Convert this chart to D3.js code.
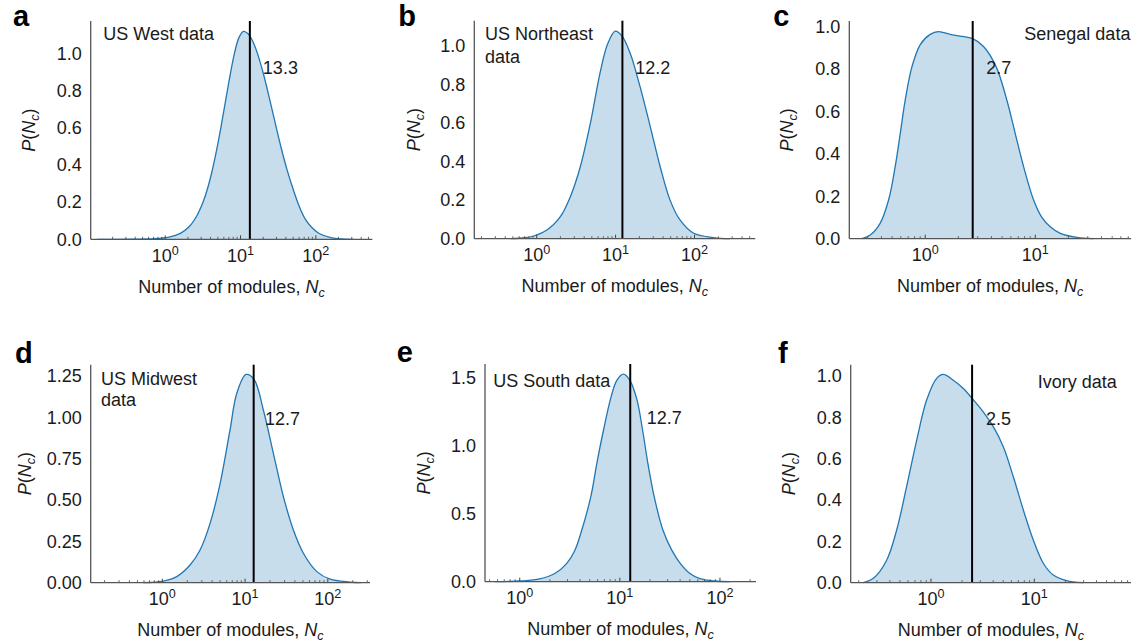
<!DOCTYPE html>
<html><head><meta charset="utf-8">
<script src="https://cdn.jsdelivr.net/npm/d3@7"></script>
<style>
body{margin:0;background:#fff}
svg{display:block}
text{font-family:"Liberation Sans",Arial,Helvetica,sans-serif;fill:#1a1a1a}
</style>
</head><body>
<svg id="chart" width="1133" height="643"></svg>
<script>
// ---------------- DATA ----------------
const panelLetters = ["a","b","c","d","e","f"];
const panelTitles = [["US West data"],["US Northeast","data"],["Senegal data"],["US Midwest","data"],["US South data"],["Ivory data"]];
const meanValues = [13.3, 12.2, 2.7, 12.7, 12.7, 2.5];
const meanLabels = ["13.3","12.2","2.7","12.7","12.7","2.5"];

// y ticks per panel
const yTicksA = [0,0.2,0.4,0.6,0.8,1.0];
const yTicksB = [0,0.2,0.4,0.6,0.8,1.0];
const yTicksC = [0,0.2,0.4,0.6,0.8,1.0];
const yTicksD = [0,0.25,0.5,0.75,1.0,1.25];
const yTicksE = [0,0.5,1.0,1.5];
const yTicksF = [0,0.2,0.4,0.6,0.8,1.0];
const yTickFormats = [".1f",".1f",".1f",".2f",".1f",".1f"];
const yMaxValues = [1.176, 1.13, 1.025, 1.319, 1.60, 1.055];
// x axis limits, as log10(Nc)
const xLimLog = [[-0.99,2.75],[-0.79,2.77],[-0.69,1.87],[-0.866,2.51],[-0.347,2.36],[-0.777,1.936]];

// KDE curves: log10(Nc) positions and density P(Nc)
const logNcA = [-0.9,-0.4,-0.15,0.05,0.20,0.32,0.42,0.50,0.56,0.62,0.68,0.74,0.80,0.86,0.92,0.98,1.04,1.10,1.16,1.22,1.30,1.38,1.46,1.54,1.62,1.70,1.78,1.86,1.95,2.05,2.2,2.35,2.5];
const densA  = [0,0.0005,0.003,0.012,0.032,0.069,0.127,0.198,0.271,0.364,0.476,0.604,0.743,0.881,1.003,1.088,1.12,1.107,1.068,1.007,0.897,0.766,0.627,0.492,0.371,0.268,0.177,0.109,0.062,0.030,0.009,0.002,0];

const logNcB = [-0.33,-0.15,-0.04,0.13,0.3,0.427,0.553,0.68,0.806,0.90,0.996,1.08,1.186,1.31,1.44,1.565,1.69,1.816,1.99,2.24,2.45];
const densB  = [0,0.005,0.014,0.045,0.114,0.218,0.373,0.598,0.865,1.01,1.076,1.051,0.96,0.788,0.58,0.373,0.2,0.097,0.028,0.006,0];

const logNcC = [-0.575,-0.5,-0.41,-0.333,-0.273,-0.227,-0.182,-0.121,-0.045,0.045,0.121,0.227,0.318,0.431,0.53,0.645,0.742,0.818,0.894,0.985,1.06,1.136,1.227,1.38,1.53];
const densC  = [0,0.017,0.072,0.182,0.339,0.495,0.652,0.809,0.914,0.962,0.975,0.962,0.954,0.942,0.905,0.809,0.652,0.495,0.339,0.182,0.10,0.056,0.025,0.006,0];

const logNcD = [-0.23,0.012,0.174,0.335,0.456,0.577,0.698,0.818,0.9,1.012,1.109,1.221,1.342,1.463,1.584,1.705,1.867,2.028,2.27,2.4];
const densD  = [0,0.01,0.037,0.107,0.198,0.359,0.6,0.924,1.146,1.26,1.23,1.045,0.783,0.521,0.319,0.178,0.067,0.021,0.004,0];

const logNcE = [-0.25,0.0,0.2,0.35,0.47,0.55,0.62,0.71,0.77,0.837,0.913,0.97,1.036,1.10,1.17,1.227,1.28,1.343,1.43,1.52,1.603,1.7,1.8,1.95,2.1];
const densE  = [0,0.005,0.02,0.06,0.135,0.23,0.38,0.625,0.87,1.115,1.36,1.48,1.525,1.48,1.34,1.115,0.87,0.625,0.38,0.23,0.135,0.06,0.022,0.005,0];

const logNcF = [-0.655,-0.558,-0.429,-0.332,-0.235,-0.138,-0.042,0.055,0.119,0.216,0.313,0.4,0.506,0.603,0.7,0.797,0.894,0.99,1.087,1.184,1.313,1.474];
const densF  = [0,0.021,0.109,0.255,0.467,0.69,0.884,0.989,1.008,0.98,0.94,0.891,0.827,0.755,0.658,0.513,0.352,0.207,0.094,0.037,0.01,0];

// ---------------- LAYOUT ----------------
const frames = [
  {x0:90.7, x1:372.3, y0:21,   y1:239.3},
  {x0:474.3,x1:755.3, y0:20.7, y1:238.7},
  {x0:849.3,x1:1131,  y0:21,   y1:238.7},
  {x0:90.7, x1:370,   y0:364.7,y1:582.7},
  {x0:485,  x1:756,   y0:364,  y1:581.7},
  {x0:850.7,x1:1131,  y0:364.7,y1:582.7}
];
const titleOffsets = [[12.6,19],[10.7,19.3],[175,19],[10.3,20.3],[8.3,22.7],[187,23.6]];
const titleLineHeights = [0,23.3,0,21,0,0];
const meanLabelOffsets = [[13,53],[12.8,53.3],[13.6,53],[11.4,60.3],[16.6,60.3],[13.9,60.3]];
const letterPos = [[13,26],[398.3,26],[773.3,26],[15,363],[396.7,362],[778,363]];
const yLabelX = [28.3,413.3,786.7,25,423.3,788.3];

const curves = [[logNcA,densA],[logNcB,densB],[logNcC,densC],[logNcD,densD],[logNcE,densE],[logNcF,densF]];
const yTicksAll = [yTicksA,yTicksB,yTicksC,yTicksD,yTicksE,yTicksF];

const svg = d3.select("#chart");
const blue = "#1f77b4";
const fs = 18;

panelLetters.forEach((letter, i) => {
  const f = frames[i];
  const x = d3.scaleLog().domain([Math.pow(10, xLimLog[i][0]), Math.pow(10, xLimLog[i][1])]).range([f.x0, f.x1]);
  const y = d3.scaleLinear().domain([0, yMaxValues[i]]).range([f.y1, f.y0]);
  const g = svg.append("g");

  const pts = curves[i][0].map((lx, k) => ({nc: Math.pow(10, lx), p: curves[i][1][k]}));
  const cv = d3.curveCatmullRom.alpha(0.5);
  const area = d3.area().x(d => x(d.nc)).y0(y(0)).y1(d => y(d.p)).curve(cv);
  const line = d3.line().x(d => x(d.nc)).y(d => y(d.p)).curve(cv);
  g.append("path").datum(pts).attr("d", area).attr("fill", blue).attr("fill-opacity", 0.25);
  g.append("path").datum(pts).attr("d", line).attr("fill", "none").attr("stroke", blue).attr("stroke-width", 1.3);

  // mean line
  g.append("line").attr("x1", x(meanValues[i])).attr("x2", x(meanValues[i]))
    .attr("y1", y.range()[0]).attr("y2", y.range()[1]).attr("stroke", "#000").attr("stroke-width", 2);

  // x axis with log ticks (inward)
  const allTicks = x.ticks();
  const majors = allTicks.filter(t => Math.abs(Math.log10(t) - Math.round(Math.log10(t))) < 1e-9);
  const minors = allTicks.filter(t => !majors.includes(t));
  g.selectAll(".minor").data(minors).join("line")
    .attr("x1", d => x(d)).attr("x2", d => x(d)).attr("y1", f.y1).attr("y2", f.y1 - 2.5)
    .attr("stroke", "#444").attr("stroke-width", 0.8);
  g.selectAll(".major").data(majors).join("line")
    .attr("x1", d => x(d)).attr("x2", d => x(d)).attr("y1", f.y1).attr("y2", f.y1 - 4)
    .attr("stroke", "#444").attr("stroke-width", 1);
  majors.forEach(t => {
    const tx = g.append("text").attr("x", x(t)).attr("y", f.y1 + 22.5).attr("text-anchor", "middle").attr("font-size", fs);
    tx.append("tspan").text("10");
    tx.append("tspan").attr("font-size", fs * 0.7).attr("dy", -7).text(Math.round(Math.log10(t)));
  });

  // y tick labels
  const fmt = d3.format(yTickFormats[i]);
  yTicksAll[i].forEach(t => {
    g.append("text").attr("x", f.x0 - 9).attr("y", y(t)).attr("dy", "0.35em")
      .attr("text-anchor", "end").attr("font-size", fs).text(fmt(t));
  });

  // spines
  g.append("line").attr("x1", f.x0).attr("x2", f.x1).attr("y1", f.y1).attr("y2", f.y1).attr("stroke", "#555").attr("stroke-width", 1.3);
  g.append("line").attr("x1", f.x0).attr("x2", f.x0).attr("y1", f.y0).attr("y2", f.y1).attr("stroke", "#555").attr("stroke-width", 1.3);

  // x label
  const xl = g.append("text").attr("x", (f.x0 + f.x1) / 2).attr("y", f.y1 + 53.4).attr("text-anchor", "middle").attr("font-size", fs);
  xl.append("tspan").text("Number of modules, ");
  xl.append("tspan").attr("font-style", "italic").text("N");
  xl.append("tspan").attr("font-style", "italic").attr("font-size", fs * 0.7).attr("dy", 4).text("c");

  // y label
  const yl = g.append("text").attr("transform", `translate(${yLabelX[i]},${(f.y0 + f.y1) / 2}) rotate(-90)`)
    .attr("text-anchor", "middle").attr("dy", "0.35em").attr("font-size", fs);
  yl.append("tspan").attr("font-style", "italic").text("P");
  yl.append("tspan").text("(");
  yl.append("tspan").attr("font-style", "italic").text("N");
  yl.append("tspan").attr("font-style", "italic").attr("font-size", fs * 0.7).attr("dy", 4).text("c");
  yl.append("tspan").attr("dy", -4).text(")");

  // title
  panelTitles[i].forEach((ln, k) => {
    g.append("text").attr("x", f.x0 + titleOffsets[i][0]).attr("y", f.y0 + titleOffsets[i][1] + k * titleLineHeights[i])
      .attr("font-size", fs).text(ln);
  });

  // mean label
  g.append("text").attr("x", x(meanValues[i]) + meanLabelOffsets[i][0]).attr("y", f.y0 + meanLabelOffsets[i][1])
    .attr("font-size", fs).text(meanLabels[i]);

  // panel letter
  svg.append("text").attr("x", letterPos[i][0]).attr("y", letterPos[i][1])
    .attr("font-size", 29).attr("font-weight", "bold").style("fill", "#000").text(letter);
});
</script>
</body></html>
